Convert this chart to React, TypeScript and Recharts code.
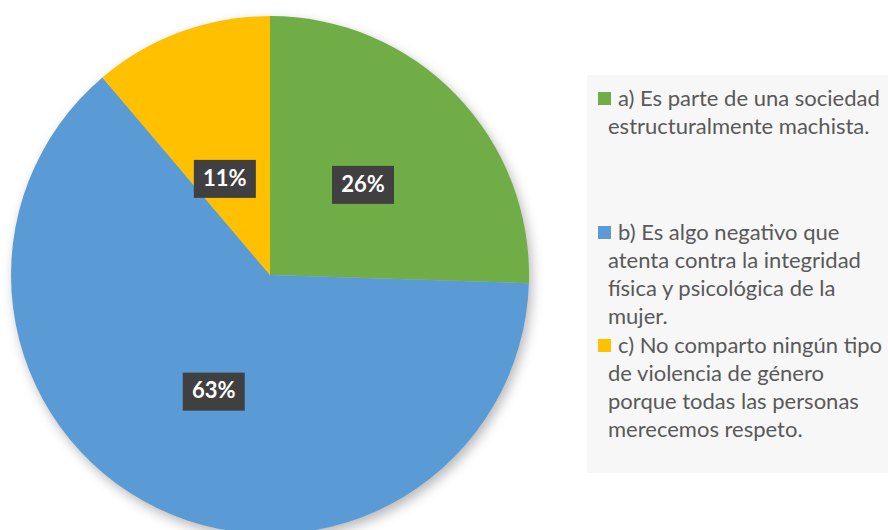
import { Cell, Legend, Pie, PieChart } from "recharts";

const OPTIONS = [
  "a) Es parte de una sociedad estructuralmente machista.",
  "b) Es algo negativo que atenta contra la integridad física y psicológica de la mujer.",
  "c) No comparto ningún tipo de violencia de género porque todas las personas merecemos respeto.",
];

// legend lines as they wrap in the picture
const LEGEND_LINES = [
  ["a) Es parte de una sociedad", "estructuralmente machista."],
  ["b) Es algo negativo que", "atenta contra la integridad", "física y psicológica de la", "mujer."],
  ["c) No comparto ningún tipo", "de violencia de género", "porque todas las personas", "merecemos respeto."],
];

const SHARES = [25.5, 63.3, 11.2];

const COLORS = ["#70AD47", "#5B9BD5", "#FFC000"];

const data = OPTIONS.map((name, i) => ({ name, value: SHARES[i] }));

const RAD = Math.PI / 180;
const LEGEND_TOPS = [9, 143, 256];

function renderLabel({ cx, cy, midAngle, outerRadius, percent }) {
  const small = percent < 0.15;
  const r = outerRadius * (small ? 0.41 : 0.5);
  const a = small ? midAngle + 5 : midAngle;
  const x = cx + r * Math.cos(-a * RAD);
  const y = cy + r * Math.sin(-a * RAD);
  return (
    <g>
      <rect x={x - 31} y={y - 19} width={62} height={38} fill="#404040" />
      <text
        x={x}
        y={y + 1}
        fill="#ffffff"
        textAnchor="middle"
        dominantBaseline="middle"
        style={{ fontFamily: "Lato", fontWeight: 700, fontSize: 22 }}
      >
        {`${Math.round(percent * 100)}%`}
      </text>
    </g>
  );
}

function LegendBox() {
  return (
    <div style={{ position: "relative", width: 301, height: 398, background: "#f7f7f7" }}>
      {LEGEND_LINES.map((lines, i) => (
        <div key={i} style={{ position: "absolute", left: 11, top: LEGEND_TOPS[i] }}>
          <span
            style={{
              position: "absolute",
              left: 0,
              top: 8,
              width: 13,
              height: 13,
              background: COLORS[i],
            }}
          />
          <div
            style={{
              marginLeft: 20,
              fontFamily: "Lato",
              fontSize: 22,
              lineHeight: "28px",
              color: "#595959",
              whiteSpace: "nowrap",
            }}
          >
            {lines.map((l, j) => (
              <div key={j} style={{ marginLeft: j === 0 ? 0 : -10 }}>{l}</div>
            ))}
          </div>
        </div>
      ))}
    </div>
  );
}

export default function App() {
  return (
    <div style={{ width: 888, height: 530, background: "#ffffff", overflow: "hidden" }}>
      <style>{"body{margin:0} .recharts-pie{filter:drop-shadow(3px 5px 6px rgba(0,0,0,0.28))}"}</style>
      <PieChart width={888} height={530}>
        <Pie
          data={data}
          dataKey="value"
          nameKey="name"
          cx={265}
          cy={270}
          outerRadius={259}
          startAngle={90}
          endAngle={-270}
          stroke="none"
          labelLine={false}
          label={renderLabel}
          isAnimationActive={false}
        >
          {data.map((_, i) => (
            <Cell key={i} fill={COLORS[i]} />
          ))}
        </Pie>
        <Legend
          content={() => <LegendBox />}
          wrapperStyle={{ position: "absolute", left: 587, top: 75, width: 301, height: 398 }}
        />
      </PieChart>
    </div>
  );
}
